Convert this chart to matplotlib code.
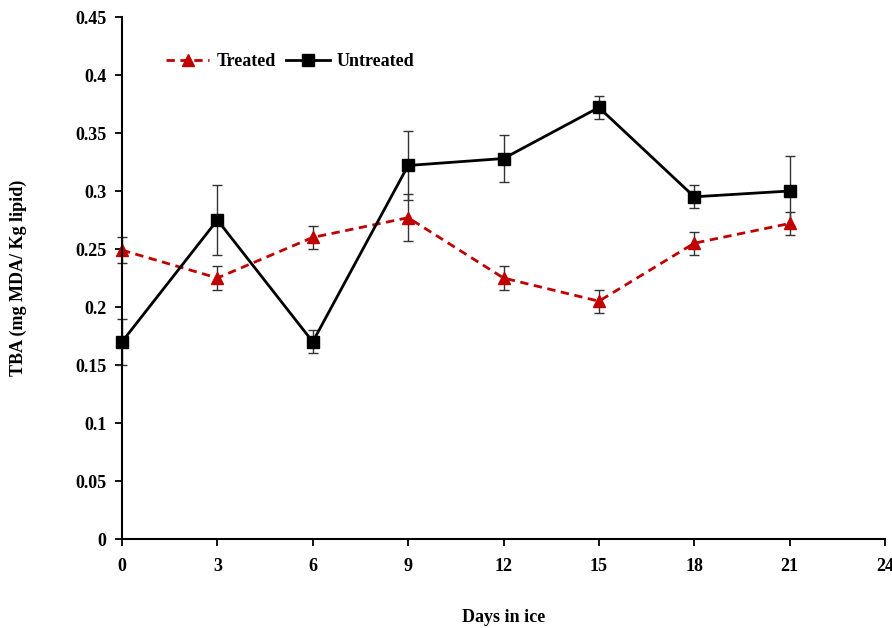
import matplotlib
matplotlib.use("Agg")
import matplotlib.pyplot as plt
from matplotlib.ticker import FuncFormatter

days = [0, 3, 6, 9, 12, 15, 18, 21]
treated = [0.249, 0.225, 0.260, 0.277, 0.225, 0.205, 0.255, 0.272]
treated_err = [0.011, 0.010, 0.010, 0.020, 0.010, 0.010, 0.010, 0.010]
untreated = [0.170, 0.275, 0.170, 0.322, 0.328, 0.372, 0.295, 0.300]
untreated_err = [0.020, 0.030, 0.010, 0.030, 0.020, 0.010, 0.010, 0.030]
xticks = [0, 3, 6, 9, 12, 15, 18, 21, 24]
yticks = [0, 0.05, 0.1, 0.15, 0.2, 0.25, 0.3, 0.35, 0.4, 0.45]

plt.rcParams['font.family'] = ['Liberation Serif', 'DejaVu Serif']
plt.rcParams['font.weight'] = 'bold'

fig = plt.figure(figsize=(8.92, 6.28), dpi=100)
ax = fig.add_axes([122/892, 1 - 539/628, (885-122)/892, (539-17)/628])

ax.errorbar(days, treated, yerr=treated_err, fmt='none', ecolor='#333333',
            elinewidth=1, capsize=3.5, capthick=1, zorder=2)
ax.errorbar(days, untreated, yerr=untreated_err, fmt='none', ecolor='#333333',
            elinewidth=1, capsize=3.5, capthick=1, zorder=2)
ax.plot(days, treated, color='#C00000', linestyle=(0, (3, 2)), linewidth=2,
        marker='^', markersize=9, markerfacecolor='#C00000', markeredgecolor='#C00000',
        label='Treated', zorder=3)
ax.plot(days, untreated, color='black', linestyle='-', linewidth=2,
        marker='s', markersize=9, markerfacecolor='black', markeredgecolor='black',
        label='Untreated', zorder=3)

ax.set_xlim(0, 24)
ax.set_ylim(0, 0.45)
ax.set_xticks(xticks)
ax.set_yticks(yticks)
ax.yaxis.set_major_formatter(FuncFormatter(lambda v, p: ('%g' % round(v, 2))))
ax.tick_params(axis='both', direction='out', length=5, width=1.3, labelsize=13)
ax.tick_params(axis='x', pad=9)
ax.tick_params(axis='y', pad=6)
for lab in ax.get_xticklabels() + ax.get_yticklabels():
    lab.set_fontweight('bold')
ax.spines['top'].set_visible(False)
ax.spines['right'].set_visible(False)
ax.spines['left'].set_linewidth(1.5)
ax.spines['bottom'].set_linewidth(1.5)
ax.spines['left'].set_zorder(5)
ax.spines['bottom'].set_zorder(5)
for s in ax.spines.values():
    s.set_clip_on(False)

ax.set_xlabel('Days in ice', fontsize=13, fontweight='bold')
ax.xaxis.set_label_coords(0.5, -(617-539)/(539-17), transform=ax.transAxes)
ax.xaxis.label.set_va('center')
ax.set_ylabel('TBA (mg MDA/ Kg lipid)', fontsize=13, fontweight='bold')
ax.yaxis.set_label_coords(-(122-18)/(885-122), 0.5, transform=ax.transAxes)
ax.yaxis.label.set_va('center')

leg = ax.legend(loc='center left', bbox_to_anchor=(0.048, 1 - (62-17)/(539-17)), ncol=2, frameon=False,
                fontsize=13, handlelength=2.4, columnspacing=0.6, handletextpad=0.4,
                borderaxespad=0)
for t in leg.get_texts():
    t.set_fontweight('bold')

for ln in ax.lines:
    ln.set_clip_on(False)

fig.savefig('out.png', dpi=100)
